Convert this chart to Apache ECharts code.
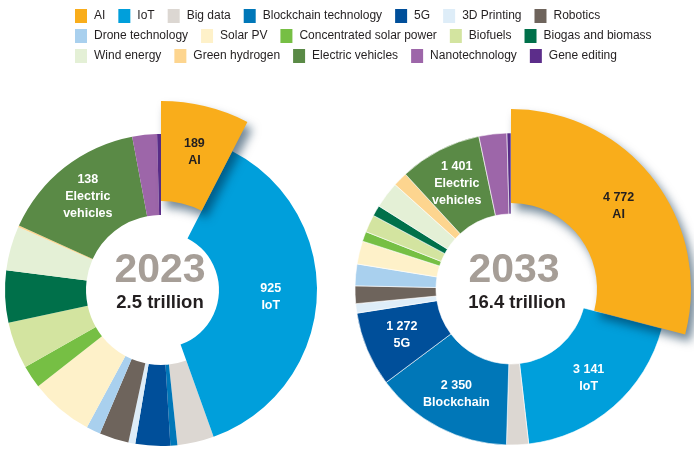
<!DOCTYPE html>
<html style="height: 100%">
<head>
<meta charset="utf-8">
<title>Frontier technology markets 2023 / 2033</title>
<script src="https://cdn.jsdelivr.net/npm/echarts@6/dist/echarts.min.js"></script>
</head>
<body style="height: 100%; margin: 0; background: #fff">
<div id="container" style="width: 694px; height: 474px"></div>
<script type="text/javascript">
// categories in clockwise order from 12 o'clock
var techs = ['AI', 'IoT', 'Big data', 'Blockchain technology', '5G', '3D Printing', 'Robotics',
    'Drone technology', 'Solar PV', 'Concentrated solar power', 'Biofuels', 'Biogas and biomass',
    'Wind energy', 'Green hydrogen', 'Electric vehicles', 'Nanotechnology', 'Gene editing'];
var colors = ['#f9ad1b', '#009fdb', '#dcd7d2', '#0077b8', '#004f9a', '#deedf8', '#6e645c',
    '#a9d0ee', '#fef1c9', '#76bf44', '#d3e4a0', '#00704a',
    '#e4f0d6', '#fdd58f', '#5a8a46', '#9d66a9', '#5c2d8a'];

// $ billions; unlabelled slices estimated from their angle
// (EV 2023 slice is drawn at ~380 although its printed label reads 138)
var values2023 = [189, 925, 95, 18, 90, 18, 76, 37, 164, 59, 121, 135, 115, 4, 382, 64, 10];
var values2033 = [4772, 3141, 374, 2350, 1272, 160, 300, 369, 392, 169, 300, 182, 451, 246, 1401, 474, 68];

// numbers printed on the slices
var printed2023 = {'AI': 189, 'IoT': 925, 'Electric vehicles': 138};
var printed2033 = {'AI': 4772, 'IoT': 3141, 'Blockchain technology': 2350, '5G': 1272, 'Electric vehicles': 1401};
var shortNames = {'Blockchain technology': 'Blockchain', 'Electric vehicles': 'Electric\nvehicles'};

var legendRows = [
    ['AI', 'IoT', 'Big data', 'Blockchain technology', '5G', '3D Printing', 'Robotics'],
    ['Drone technology', 'Solar PV', 'Concentrated solar power', 'Biofuels', 'Biogas and biomass'],
    ['Wind energy', 'Green hydrogen', 'Electric vehicles', 'Nanotechnology', 'Gene editing']
];

var FONT = '"Liberation Sans", Arial, sans-serif';

function fmt(v) {
    return String(v).replace(/\B(?=(\d{3})+(?!\d))/g, ' ');
}

// one pie layer; "show" decides which slices are painted in this layer
function pieLayer(values, center, radius, show, printed, extraStyle) {
    return {
        type: 'pie',
        center: center,
        radius: radius,
        startAngle: 90,
        clockwise: true,
        silent: true,
        animation: false,
        avoidLabelOverlap: false,
        labelLine: {show: false},
        emphasis: {disabled: true},
        data: techs.map(function (name, i) {
            var visible = show(name);
            var item = {
                name: name,
                value: values[i],
                itemStyle: visible ? Object.assign({color: colors[i]}, extraStyle || {}) : {color: 'transparent'},
                label: {show: false}
            };
            if (visible && printed[name] !== undefined) {
                item.label = {
                    show: true,
                    position: 'inside',
                    formatter: fmt(printed[name]) + '\n' + (shortNames[name] || name),
                    color: name === 'AI' ? '#231f20' : '#ffffff',
                    fontFamily: FONT,
                    fontWeight: 'bold',
                    fontSize: 12.5,
                    lineHeight: 17
                };
            }
            return item;
        })
    };
}

var aiShadow = {
    shadowColor: 'rgba(0, 40, 70, 0.55)',
    shadowBlur: 10,
    shadowOffsetX: 5,
    shadowOffsetY: 7
};

var c1 = [161, 290], c2 = [511, 289];

var series = [
    pieLayer(values2023, c1, [75, 156], function (n) { return n !== 'AI' && n !== 'IoT'; }, printed2023),
    pieLayer(values2023, c1, [58, 156], function (n) { return n === 'IoT'; }, printed2023),
    pieLayer(values2023, c1, [89, 189], function (n) { return n === 'AI'; }, printed2023, aiShadow),
    pieLayer(values2033, c2, [75, 156], function (n) { return n !== 'AI'; }, printed2033,
        {borderColor: '#ffffff', borderWidth: 0.6}),
    pieLayer(values2033, c2, [86, 180], function (n) { return n === 'AI'; }, printed2033, aiShadow)
];

var legends = legendRows.map(function (row, r) {
    return {
        left: 70,
        top: 4 + r * 20,
        orient: 'horizontal',
        itemWidth: 12,
        itemHeight: 14,
        itemGap: 13,
        selectedMode: false,
        icon: 'rect',
        textStyle: {fontFamily: FONT, fontSize: 12, color: '#231f20', padding: [0, 0, 0, 2]},
        data: row.map(function (name) {
            return {name: name, itemStyle: {color: colors[techs.indexOf(name)]}};
        })
    };
});

var centerText = [
    {type: 'text', x: 160, y: 271, style: {text: '2023', textAlign: 'center', textVerticalAlign: 'middle',
        font: 'bold 41px ' + FONT, fill: '#a69e97'}},
    {type: 'text', x: 160, y: 303, style: {text: '2.5 trillion', textAlign: 'center', textVerticalAlign: 'middle',
        font: 'bold 18.5px ' + FONT, fill: '#231f20'}},
    {type: 'text', x: 514, y: 271, style: {text: '2033', textAlign: 'center', textVerticalAlign: 'middle',
        font: 'bold 41px ' + FONT, fill: '#a69e97'}},
    {type: 'text', x: 517, y: 303, style: {text: '16.4 trillion', textAlign: 'center', textVerticalAlign: 'middle',
        font: 'bold 18.5px ' + FONT, fill: '#231f20'}}
];

var myChart = echarts.init(document.getElementById('container'));
var option = {
    backgroundColor: '#ffffff',
    animation: false,
    legend: legends,
    series: series,
    graphic: centerText
};
myChart.setOption(option);
</script>
</body>
</html>
